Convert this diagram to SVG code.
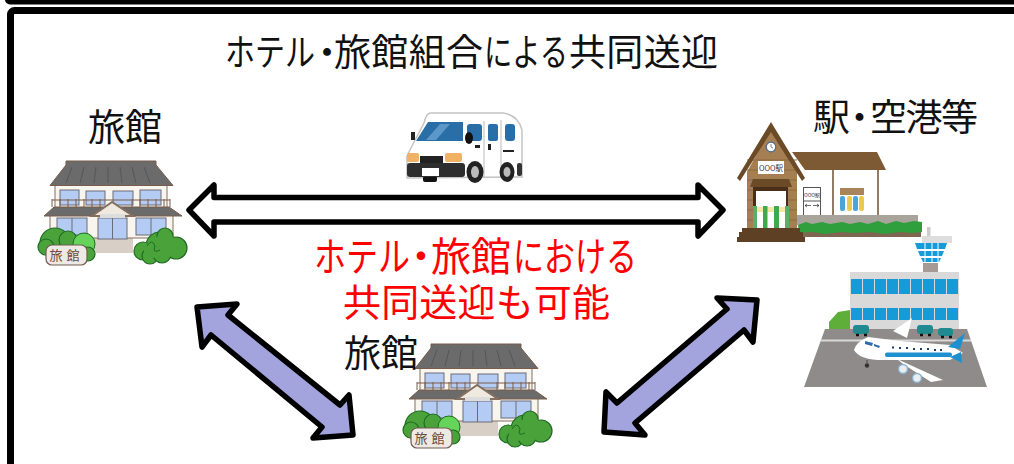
<svg xmlns="http://www.w3.org/2000/svg" width="1014" height="464" viewBox="0 0 1014 464">
<style>
text{font-family:"Noto Sans CJK JP","Noto Sans",sans-serif}
.blk{fill:#111}
.red{fill:#f00}
.t36{font-size:37px}
.conn{stroke:#000;stroke-width:5.5;stroke-linejoin:round}
.rf{fill:#6b6b6b;stroke:#7a5c4a;stroke-width:1}
.wl{fill:#f8f5ef;stroke:#85705f;stroke-width:1}
.wn{fill:#b4ccf4;stroke:#6d6a78;stroke-width:1}
.bs{fill:#4aa33a;stroke:#1f6b22;stroke-width:1.200}
.wb{fill:#169ad8}
.bus{fill:#1f8a8f}
</style>
<defs>
<g id="ryokan">
<rect x="93" y="236" width="40" height="17" fill="#d8cfc6"/>
<rect x="55" y="184" width="112" height="24" class="wl"/>
<rect x="50" y="214" width="123" height="24" class="wl"/>
<path d="M66 161H156V165L173 185.500H50L66 165Z" class="rf"/>
<path d="M72 167L66 183M84 167L80 183M96 167L94 183M108 167V183M120 167L122 183M132 167L136 183M144 167L150 183" stroke="#505050" stroke-width=".8" fill="none"/>
<g class="wn"><rect x="60" y="190" width="19" height="15"/><rect x="86" y="191" width="19" height="14"/><rect x="113" y="191" width="20" height="14"/><rect x="140" y="190" width="21" height="15"/></g>
<path d="M52 200H170M52 207V199M60 207V199M68 207V199M76 207V199M84 207V199M92 207V199M100 207V199M132 207V199M140 207V199M148 207V199M156 207V199M164 207V199M170 207V199" stroke="#7a5c4a" stroke-width="1" fill="none"/>
<path d="M54 207H169L182 216H44Z" class="rf"/>
<g class="wn"><rect x="57" y="218" width="30" height="17"/><rect x="98" y="218" width="29" height="21"/><rect x="136" y="218" width="30" height="17"/></g>
<path d="M72 218V235M112.500 218V239M151 218V235" stroke="#6d6a78" fill="none"/>
<path d="M112 202L92 216H133Z" fill="#efe9df" stroke="#85705f" stroke-width="2"/>
<rect x="100" y="214" width="25" height="4" fill="#ddd"/>
<circle cx="55" cy="243" r="15" class="bs"/><circle cx="46" cy="247" r="8" class="bs"/><circle cx="68" cy="240" r="9" class="bs"/>
<circle cx="84" cy="244" r="11" fill="#66d45a" stroke="#1f6b22"/><circle cx="88" cy="254" r="7" class="bs"/>
<rect x="46" y="245" width="41" height="20" rx="6" fill="#eee9e4" stroke="#6f5d52" stroke-width="1.200"/>
<text x="66.500" y="260" text-anchor="middle" font-size="13" fill="#6b4a3a" letter-spacing="4">旅館</text>
<circle cx="160" cy="246" r="14" class="bs"/><circle cx="143" cy="251" r="9" class="bs"/><circle cx="150" cy="256" r="8" class="bs"/><circle cx="176" cy="248" r="11" class="bs"/><circle cx="165" cy="236" r="8" class="bs"/><circle cx="162" cy="254" r="9" class="bs"/><circle cx="165" cy="246" r="12" fill="#4aa33a"/><circle cx="152" cy="250" r="8" fill="#4aa33a"/>
<path d="M147 246Q152 238 155 246Q152 254 160 250" fill="none" stroke="#1f6b22"/>
</g>
</defs>

<g id="frame">
<rect x="5" y="-10" width="1020" height="14.500" rx="5" fill="#000"/>
<rect x="10.500" y="10.500" width="1020" height="470" rx="4" fill="#fff" stroke="#000" stroke-width="7"/>
</g>

<g id="title"><text class="blk t36" y="66"><tspan x="225" textLength="90" lengthAdjust="spacingAndGlyphs">ホテル</tspan><tspan x="308.500">・</tspan><tspan x="334" textLength="149" lengthAdjust="spacing">旅館組合</tspan><tspan x="484" textLength="84" lengthAdjust="spacingAndGlyphs">による</tspan><tspan x="569" textLength="149" lengthAdjust="spacing">共同送迎</tspan></text></g>

<g id="ryokan-1"><use href="#ryokan"/><text class="blk t36" x="88" y="141">旅館</text></g>

<g id="van">
<path d="M430 113H503Q518 115 522 130V177L407 178V156L412 146L424 123Q426 114 430 113Z" fill="#fff" stroke="#c4c4c4" stroke-width="1.500"/>
<path d="M416 141L428 122H463L463 141Z" fill="#2a6ea8"/>
<path d="M440 124L450 124L436 140L426 140Z" fill="#5c97c8"/>
<rect x="467" y="124" width="15" height="17" rx="3" fill="#2a6ea8"/><rect x="488" y="124" width="10" height="17" rx="2" fill="#2a6ea8"/><rect x="505" y="124" width="10" height="17" rx="3" fill="#2a6ea8"/>
<path d="M484 121V178M501 120V178" stroke="#bbb" fill="none"/>
<ellipse cx="469" cy="138" rx="4" ry="6" fill="#111"/>
<rect x="411" y="132" width="4" height="8" fill="#222"/>
<rect x="475" y="145" width="5" height="3" fill="#222"/><rect x="488" y="144" width="3" height="6" fill="#222"/><rect x="503" y="150" width="11" height="2" fill="#222"/>
<rect x="420" y="156" width="23" height="7" fill="#222"/>
<rect x="407" y="153" width="12" height="9" rx="2" fill="#f0b264"/><rect x="445" y="153" width="17" height="9" rx="2" fill="#f0b264"/>
<rect x="423" y="176" width="14" height="6" rx="2" fill="#111"/>
<rect x="407" y="163" width="58" height="14" rx="3" fill="#2e2e2e"/>
<rect x="422" y="168" width="17" height="8" fill="#fff"/>
<ellipse cx="475" cy="172" rx="8.500" ry="11" fill="#222"/><ellipse cx="475" cy="172" rx="4" ry="6" fill="#bbb"/>
<ellipse cx="507" cy="172" rx="7.500" ry="10" fill="#222"/><ellipse cx="507" cy="172" rx="3.500" ry="5" fill="#bbb"/>
<rect x="517" y="163" width="5" height="13" rx="2" fill="#333"/>
</g>

<g id="station">
<rect x="797" y="170" width="81" height="46" fill="#fff"/>
<path d="M792 152H877L886 170H805Z" fill="#7d5a33"/>
<path d="M833 170V215M878 170V215" stroke="#6e5233" stroke-width="1.500"/>
<rect x="803.500" y="187.500" width="17" height="28" fill="#fff" stroke="#555"/>
<path d="M803 201H821" stroke="#555"/>
<text x="812" y="197" text-anchor="middle" font-size="5" fill="#333">OOO駅</text>
<path d="M805 205.500H811M807 204L805 205.500L807 207M813 205.500H819M817 204L819 205.500L817 207" stroke="#333" stroke-width=".7" fill="none"/>
<rect x="840" y="188" width="24" height="7" fill="#a8845a"/>
<rect x="840" y="196" width="5" height="15" rx="2" fill="#4aa3dc"/><rect x="847" y="196" width="5" height="15" rx="2" fill="#ecc94b"/><rect x="853" y="196" width="5" height="15" rx="2" fill="#4aa3dc"/><rect x="859" y="196" width="5" height="15" rx="2" fill="#ecc94b"/>
<rect x="797" y="215" width="121" height="10" fill="#a9a49b"/>
<rect x="800" y="230" width="121" height="7" fill="#7e6650"/>
<path d="M798 225L806 222L812 224L822 222L830 224L842 222L850 224L860 222L868 224L878 221L886 224L896 221L904 223L914 221L922 222V232L912 233L900 232L885 234L870 232L855 233L840 232L825 234L812 232L799 233Z" fill="#2f9e3c"/>
<path d="M771 128L747 172V230H797V172Z" fill="#a57f52"/>
<path d="M747 160H797M747 170H797M747 180H797M747 190H756M747 200H756M747 210H756M747 220H756M787 190H797M787 200H797M787 210H797M787 220H797" stroke="#8a6a42" stroke-width="1"/>
<path d="M771 122L805 178L802 181L771 132L740 181L737 178Z" fill="#6b4a28"/>
<circle cx="771" cy="147" r="4.800" fill="#fff" stroke="#4a6a8a" stroke-width="1.200"/>
<path d="M771 144V147L773 148" stroke="#333" stroke-width=".6" fill="none"/>
<rect x="758" y="161" width="26" height="13" fill="#fff"/>
<text x="771" y="170.500" text-anchor="middle" font-size="7.500" fill="#333">OOO駅</text>
<path d="M753 179H789L792 187H750Z" fill="#6b4a28"/>
<rect x="753" y="187" width="35" height="41" fill="#4a2f18"/>
<rect x="756" y="191" width="30" height="37" fill="#fff"/>
<rect x="756" y="207" width="30" height="5" fill="#f5e7a6"/>
<rect x="753" y="206" width="4" height="22" fill="#57b06a"/><rect x="763" y="206" width="4.500" height="22" fill="#3fa94f"/><rect x="774" y="206" width="5" height="22" fill="#3fa94f"/><rect x="785" y="206" width="4" height="22" fill="#57b06a"/>
<path d="M742 228H800V232H803V237H805V242H737V237H739V232H742Z" fill="#5e4125"/>
</g>

<g id="airport">
<path d="M829 330V322L838 312L850 310V330Z" fill="#5fae3a"/>
<rect x="850" y="272" width="109" height="58" fill="#d9d9d9"/>
<g class="wb">
<rect x="851" y="279" width="11" height="15"/><rect x="863" y="279" width="11" height="15"/><rect x="875" y="279" width="11" height="15"/><rect x="887" y="279" width="11" height="15"/><rect x="899" y="279" width="11" height="15"/><rect x="911" y="279" width="11" height="15"/><rect x="923" y="279" width="11" height="15"/><rect x="935" y="279" width="11" height="15"/><rect x="947" y="279" width="11" height="15"/>
<rect x="851" y="308" width="11" height="12"/><rect x="863" y="308" width="11" height="12"/><rect x="875" y="308" width="11" height="12"/><rect x="887" y="308" width="11" height="12"/><rect x="899" y="308" width="11" height="12"/><rect x="911" y="308" width="11" height="12"/><rect x="923" y="308" width="11" height="12"/><rect x="935" y="308" width="11" height="12"/><rect x="947" y="308" width="11" height="12"/>
</g>
<rect x="927" y="227" width="3.500" height="9" fill="#ccc"/>
<rect x="922" y="236" width="30" height="7" fill="#ddd"/>
<path d="M913 243H948L940 263H922Z" fill="#fff"/>
<path d="M915 243H947L945 249H917ZM918 251H944L942 256H920ZM921 258H941L939 262H923Z" fill="#169ad8"/>
<path d="M925 243V262M932 243V262M938 243V262" stroke="#fff"/>
<rect x="923" y="263" width="15" height="9" fill="#a59a96"/>
<path d="M825 329H967L987 387H804Z" fill="#8f8b8b"/>
<path d="M821 340.500H971" stroke="#d8d8d8" stroke-width="2"/>
<g class="bus"><rect x="853" y="325" width="16" height="9" rx="3"/><rect x="917" y="325" width="16" height="9" rx="3"/><rect x="938" y="328" width="15" height="8" rx="3"/></g>
<path d="M856 335h3M864 335h3M920 335h3M928 335h3M941 337h3M949 337h3" stroke="#111" stroke-width="2.500"/>
<path d="M893 331L912 318L907 338Z" fill="#fff"/>
<path d="M854 350Q856 342 868 337L900 341L950 345L963 353L950 360H888Q860 361 854 350Z" fill="#fff"/>
<path d="M948 347L965 333L960 349Z" fill="#1e90d0"/>
<path d="M950 357L961 352L962 363Z" fill="#1e90d0"/>
<rect x="885" y="352.500" width="67" height="4.500" rx="2" fill="#1e90d0"/>
<path d="M865 341L873 343L872 346L865 344ZM874 344L880 346L879 348L874 346Z" fill="#2a6bb0"/>
<path d="M892 347.500h2M899 348h2M906 348h2M913 349h2M920 349h2M927 349h2M934 350h2M940 350h2" stroke="#1a3f6b" stroke-width="2"/>
<path d="M897 359L943 380L931 382L903 364Z" fill="#fff"/>
<circle cx="903" cy="369" r="4.500" fill="#e8eef2" stroke="#8ab0c8" stroke-width="1.500"/>
<circle cx="917" cy="378" r="4.500" fill="#e8eef2" stroke="#8ab0c8" stroke-width="1.500"/>
<path d="M867 360V363" stroke="#444" stroke-width="1"/><circle cx="867" cy="365.500" r="2.200" fill="#333"/>
</g>
<g id="station-label"><text class="blk t36" y="131"><tspan x="813">駅</tspan><tspan x="841">・</tspan><tspan x="870" textLength="108" lengthAdjust="spacing">空港等</tspan></text></g>

<g id="connectors">
<path d="M189 210L214 185V197.500H698V185L723 210L698 236V222H214V236Z" fill="#fff" class="conn"/>
<path d="M197 307L237 304L228 315L340 405L349 395L353 435L313 438L322 427L211 335L202 347Z" fill="#a3a3dd" class="conn"/>
<path d="M757 300L717 298L727 309L617 403L606 392L604 432L645 435L635 423L744 330L753 342Z" fill="#a3a3dd" class="conn"/>
</g>

<g id="note"><text class="red" font-size="40" y="271"><tspan x="314" textLength="96" lengthAdjust="spacingAndGlyphs">ホテル</tspan><tspan x="401">・</tspan><tspan x="431">旅館</tspan><tspan x="513" textLength="124" lengthAdjust="spacingAndGlyphs">における</tspan></text>
<text class="red" font-size="38" x="343" y="316" textLength="267">共同送迎も可能</text></g>

<g id="ryokan-2"><use href="#ryokan" transform="translate(365 183)"/><text class="blk t36" x="344" y="367">旅館</text></g>
</svg>
